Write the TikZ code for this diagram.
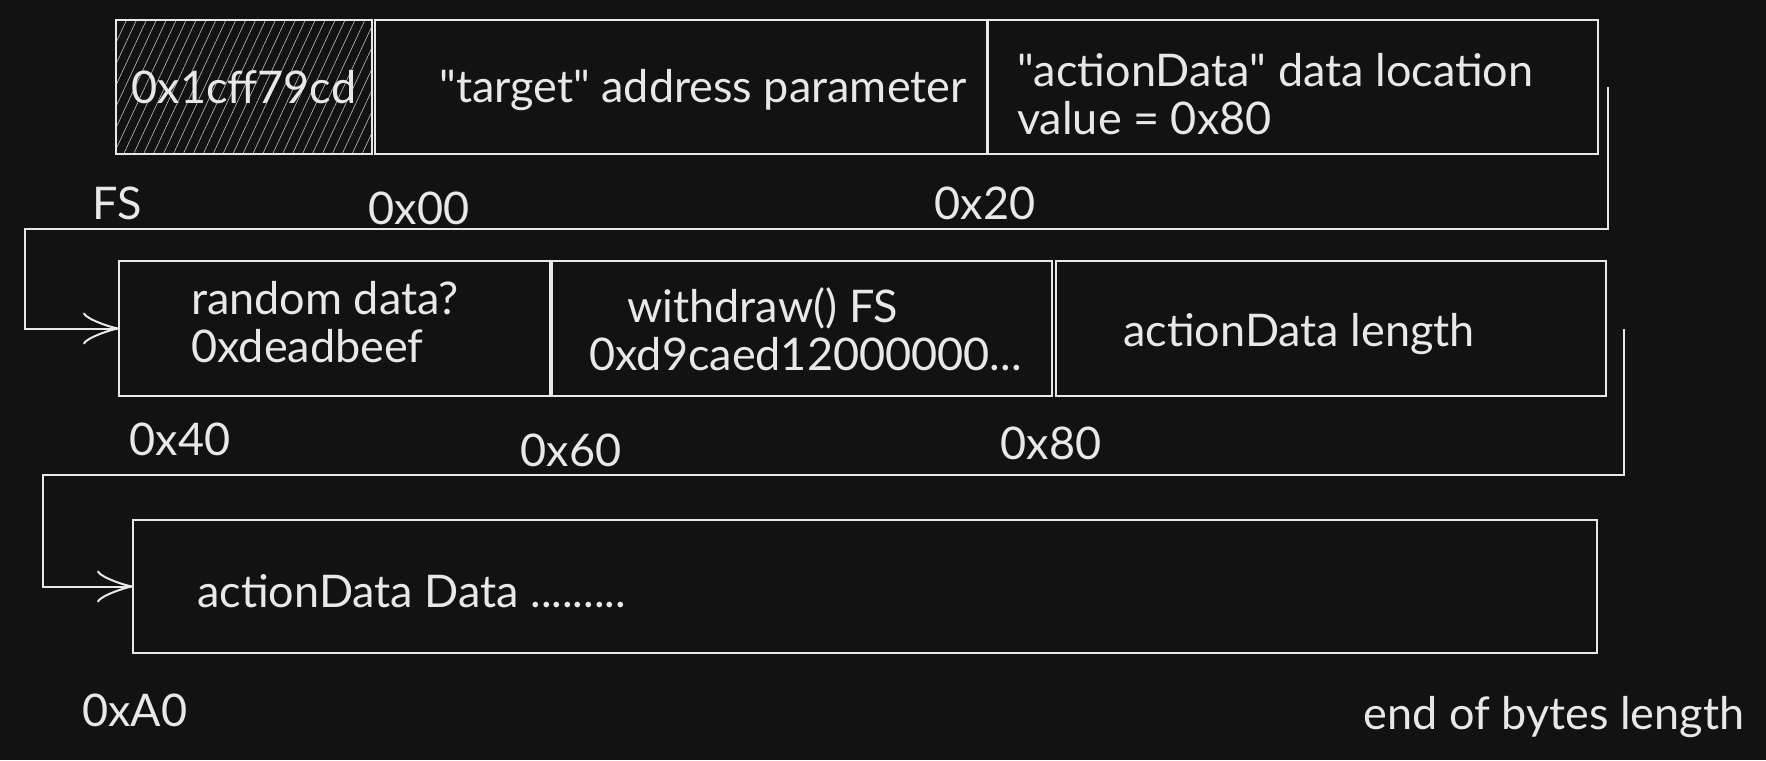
\documentclass[tikz,border=0pt]{standalone}
\usepackage{fontspec}
\setmainfont{Lato}
\usetikzlibrary{arrows.meta,patterns.meta}
\definecolor{canvas}{HTML}{121212}
\definecolor{ink}{HTML}{E8E8E8}
\tikzset{
  cell/.style={draw=ink, line width=1.8pt, inner sep=0pt, outer sep=0pt},
  txt/.style={text=ink, font=\fontsize{45}{48}\selectfont, inner sep=0pt},
  flow/.style={draw=ink, line width=2pt, arrows={-Classical TikZ Rightarrow[length=36pt,width=32pt,line width=2pt]}},
}

\begin{document}
\begin{tikzpicture}[x=1pt,y=-1pt]
\fill[canvas] (0,0) rectangle (1766,760);
\useasboundingbox (0,0) rectangle (1766,760);
%
\node[cell, txt, pattern={Lines[angle=65,distance=9pt,line width=0.6pt]}, pattern color=gray!50, minimum width=256pt, minimum height=134pt] (fs) at (244,87) {0x1cff79cd};
\node[cell, minimum width=612pt, minimum height=134pt] (tgt) at (681,87) {};
\node[cell, minimum width=610pt, minimum height=134pt] (loc) at (1293,87) {};
\node[txt] (tgtlbl) at (703,90) {\textquotedbl target\textquotedbl{} address parameter};
\node[txt, anchor=west, align=left] (loclbl) at (1017,94) {\textquotedbl actionData\textquotedbl{} data location\\value = 0x80};
\node[txt] (offfs) at (117,203) {FS};
\node[txt] (off00) at (419,208) {0x00};
\node[txt] (off20) at (985,203) {0x20};
%
\node[cell, minimum width=431pt, minimum height=135pt] (rand) at (334.5,328.5) {};
\node[cell, minimum width=500pt, minimum height=135pt] (wd) at (802,328.5) {};
\node[cell, minimum width=550pt, minimum height=135pt] (len) at (1331,328.5) {};
\node[txt, anchor=west, align=left] (randlbl) at (191,322) {random data?\\0xdeadbeef};
\node[txt, anchor=west, align=left] (wdlbl) at (589,329) {\hspace*{38pt}withdraw() FS\\0xd9caed12000000...};
\node[txt, anchor=west] (lenlbl) at (1123,334) {actionData length};
\node[txt] (off40) at (180,439) {0x40};
\node[txt] (off60) at (571,450) {0x60};
\node[txt] (off80) at (1051,443) {0x80};
%
\node[cell, minimum width=1464pt, minimum height=133pt] (data) at (865,586.5) {};
\node[txt, anchor=west] (datalbl) at (197,591) {actionData Data .........};
\node[txt] (offa0) at (135,710) {0xA0};
\node[txt] (endlbl) at (1554,717) {end of bytes length};
%
\coordinate (turnA) at (25,229);
\coordinate (turnB) at (43,475);
\draw[flow] ([xshift=10pt]loc.east) |- (turnA) |- (rand.west);
\draw[flow] ([xshift=18pt]len.east) |- (turnB) |- (data.west);
\end{tikzpicture}
\end{document}
